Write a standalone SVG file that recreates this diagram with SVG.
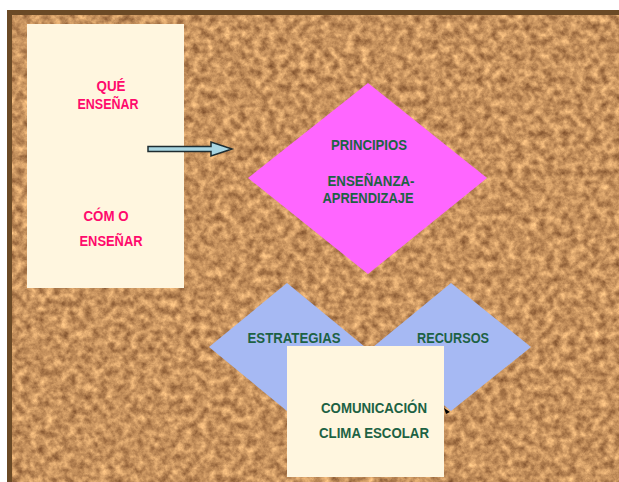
<svg xmlns="http://www.w3.org/2000/svg" width="619" height="482" viewBox="0 0 619 482">
<style>
.card{fill:#FFF6DF}
.pink{fill:#FF0A6C;font-family:"Liberation Sans",Arial,sans-serif;font-weight:bold;font-size:14.5px;text-anchor:middle}
.green{fill:#1D6244;font-family:"Liberation Sans",Arial,sans-serif;font-weight:bold;font-size:14.5px;text-anchor:middle}
.blue{fill:#A6B9F3}
</style>
<defs>
<filter id="cork" x="0" y="0" width="100%" height="100%" color-interpolation-filters="sRGB">
<feTurbulence type="fractalNoise" baseFrequency="0.13" numOctaves="4" seed="7" result="n"/>
<feColorMatrix in="n" type="matrix" values="0.65 0 0 0 0.45  0.6 0 0 0 0.27  0.45 0 0 0 0.14  0 0 0 0 1"/>
</filter>
</defs>
<rect x="0" y="0" width="619" height="482" fill="#FFFFFF"/>
<g id="board">
<rect x="7" y="10" width="612" height="472" fill="#C4905E"/>
<rect x="7" y="10" width="612" height="472" filter="url(#cork)"/>
<rect x="7" y="10" width="612" height="5" fill="#6B4A26"/>
<rect x="7" y="10" width="5" height="472" fill="#6B4A26"/>
</g>
<g id="card-left">
<rect class="card" x="27" y="24" width="157" height="264"/>
<text class="pink" x="111" y="91" textLength="29" lengthAdjust="spacingAndGlyphs">QUÉ</text>
<text class="pink" x="108" y="109" textLength="61" lengthAdjust="spacingAndGlyphs">ENSEÑAR</text>
<text class="pink" x="106" y="221" textLength="45" lengthAdjust="spacingAndGlyphs">CÓM O</text>
<text class="pink" x="111" y="246" textLength="63" lengthAdjust="spacingAndGlyphs">ENSEÑAR</text>
</g>
<g id="connectors">
<path d="M148,146.5 H211 V142 L232,149 L211,156 V151.5 H148 Z" fill="#A9D6E2" stroke="#1E2C30" stroke-width="1.5" stroke-linejoin="miter"/>
</g>
<g id="principios">
<polygon points="368,83 487,178 368,274 248,178" fill="#FF66FF"/>
<text class="green" x="369" y="150" textLength="76" lengthAdjust="spacingAndGlyphs">PRINCIPIOS</text>
<text class="green" x="371" y="186" textLength="87" lengthAdjust="spacingAndGlyphs">ENSEÑANZA-</text>
<text class="green" x="368" y="203" textLength="91" lengthAdjust="spacingAndGlyphs">APRENDIZAJE</text>
</g>
<g id="estrategias">
<polygon class="blue" points="287,283 365,347 287,411 209,347"/>
<text class="green" x="294" y="343" textLength="93" lengthAdjust="spacingAndGlyphs">ESTRATEGIAS</text>
</g>
<g id="recursos">
<polygon points="444,408 450,412 446,414" fill="#000000"/>
<polygon class="blue" points="451,283 531,347 451,411 373,347"/>
<text class="green" x="453" y="343" textLength="72" lengthAdjust="spacingAndGlyphs">RECURSOS</text>
</g>
<g id="comunicacion">
<rect class="card" x="287" y="346" width="157" height="131"/>
<text class="green" x="374" y="413" textLength="106" lengthAdjust="spacingAndGlyphs">COMUNICACIÓN</text>
<text class="green" x="374" y="438" textLength="110" lengthAdjust="spacingAndGlyphs">CLIMA ESCOLAR</text>
</g>
</svg>
